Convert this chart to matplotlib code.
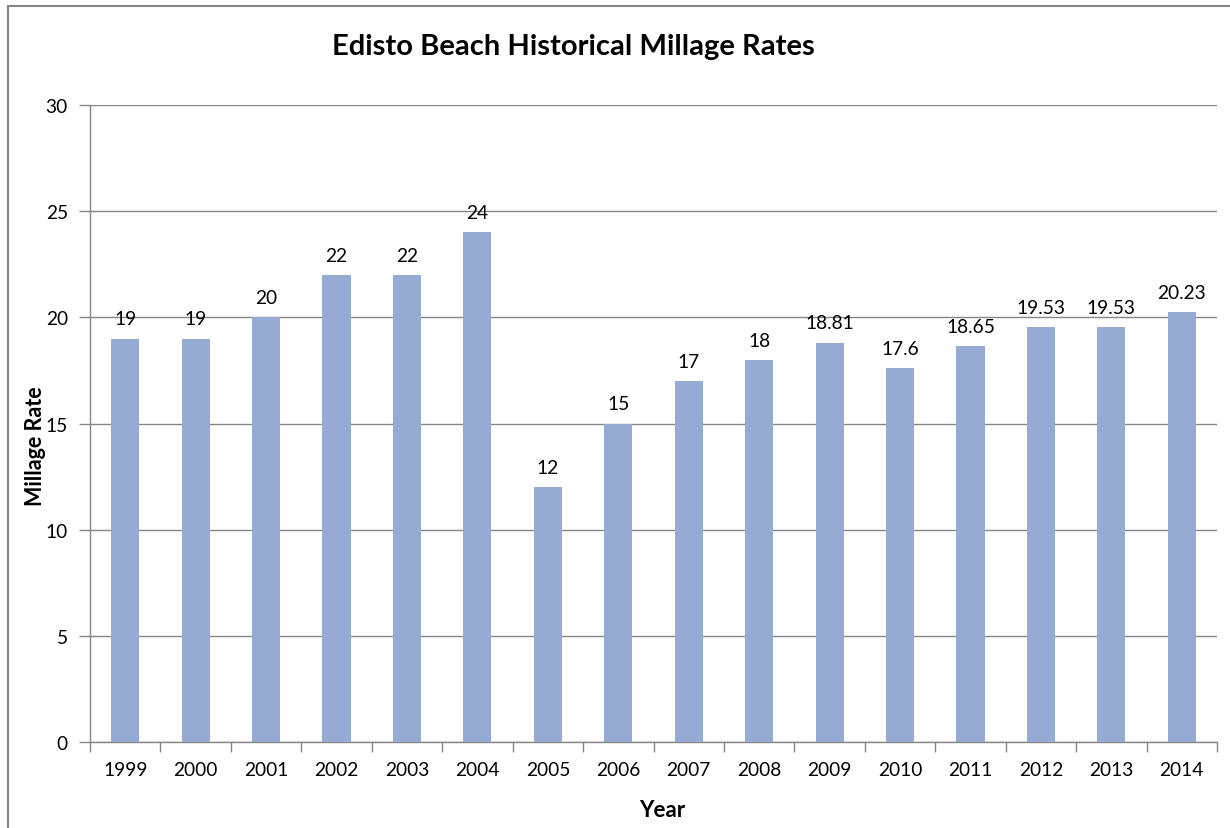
import matplotlib
matplotlib.use("Agg")
import matplotlib.pyplot as plt
from matplotlib.lines import Line2D

years = ["1999", "2000", "2001", "2002", "2003", "2004", "2005", "2006",
         "2007", "2008", "2009", "2010", "2011", "2012", "2013", "2014"]
rates = [19, 19, 20, 22, 22, 24, 12, 15, 17, 18, 18.81, 17.6, 18.65, 19.53, 19.53, 20.23]
rate_labels = ["19", "19", "20", "22", "22", "24", "12", "15", "17", "18",
               "18.81", "17.6", "18.65", "19.53", "19.53", "20.23"]
y_ticks = [0, 5, 10, 15, 20, 25, 30]

plt.rcParams["font.family"] = ["Lato", "DejaVu Sans"]

W, H = 1230, 829
fig = plt.figure(figsize=(W / 100, H / 100), dpi=100)
ax = fig.add_axes([90 / W, 1 - 743 / H, (1217 - 90) / W, (743 - 106) / H])

x = list(range(len(years)))
ax.bar(x, rates, width=0.4, color="#95abd3", zorder=3)
for xi, v, lab in zip(x, rates, rate_labels):
    ax.annotate(lab, (xi, v), xytext=(0, 8), textcoords="offset points",
                ha="center", va="bottom", fontsize=13.8, color="#000000")

ax.set_xlim(-0.5, len(years) - 0.5)
ax.set_ylim(0, 30)
ax.set_yticks(y_ticks)
ax.set_yticklabels([str(t) for t in y_ticks], fontsize=13.8)
ax.set_xticks(x)
ax.set_xticklabels(years, fontsize=13.8)
ax.tick_params(axis="x", length=0, pad=14)
ax.tick_params(axis="y", length=8, width=1, color="#868686", pad=8)

# category-boundary tick marks below the axis
ax.set_xticks([i - 0.5 for i in range(len(years) + 1)], minor=True)
ax.tick_params(axis="x", which="minor", length=7, width=1, color="#868686")

ax.grid(axis="y", color="#868686", linewidth=1, zorder=0)
for side in ("top", "right"):
    ax.spines[side].set_visible(False)
for side in ("left", "bottom"):
    ax.spines[side].set_color("#868686")
    ax.spines[side].set_linewidth(1)

fig.text(35 / W, 1 - 446 / H, "Millage Rate", fontsize=15.5, fontweight="bold",
         rotation=90, ha="center", va="center")
fig.text(662 / W, 1 - 811 / H, "Year", fontsize=16, fontweight="bold",
         ha="center", va="center")
fig.text(573 / W, 1 - 47 / H, "Edisto Beach Historical Millage Rates",
         fontsize=21, fontweight="bold", ha="center", va="center")

# chart-area border along the left and top edges
fig.add_artist(Line2D([8 / W, 8 / W], [0, 1 - 7 / H], transform=fig.transFigure,
                      color="#868686", linewidth=1.5))
fig.add_artist(Line2D([8 / W, 1], [1 - 7 / H, 1 - 7 / H], transform=fig.transFigure,
                      color="#868686", linewidth=1.5))

fig.savefig("out.png", dpi=100, facecolor="white")
